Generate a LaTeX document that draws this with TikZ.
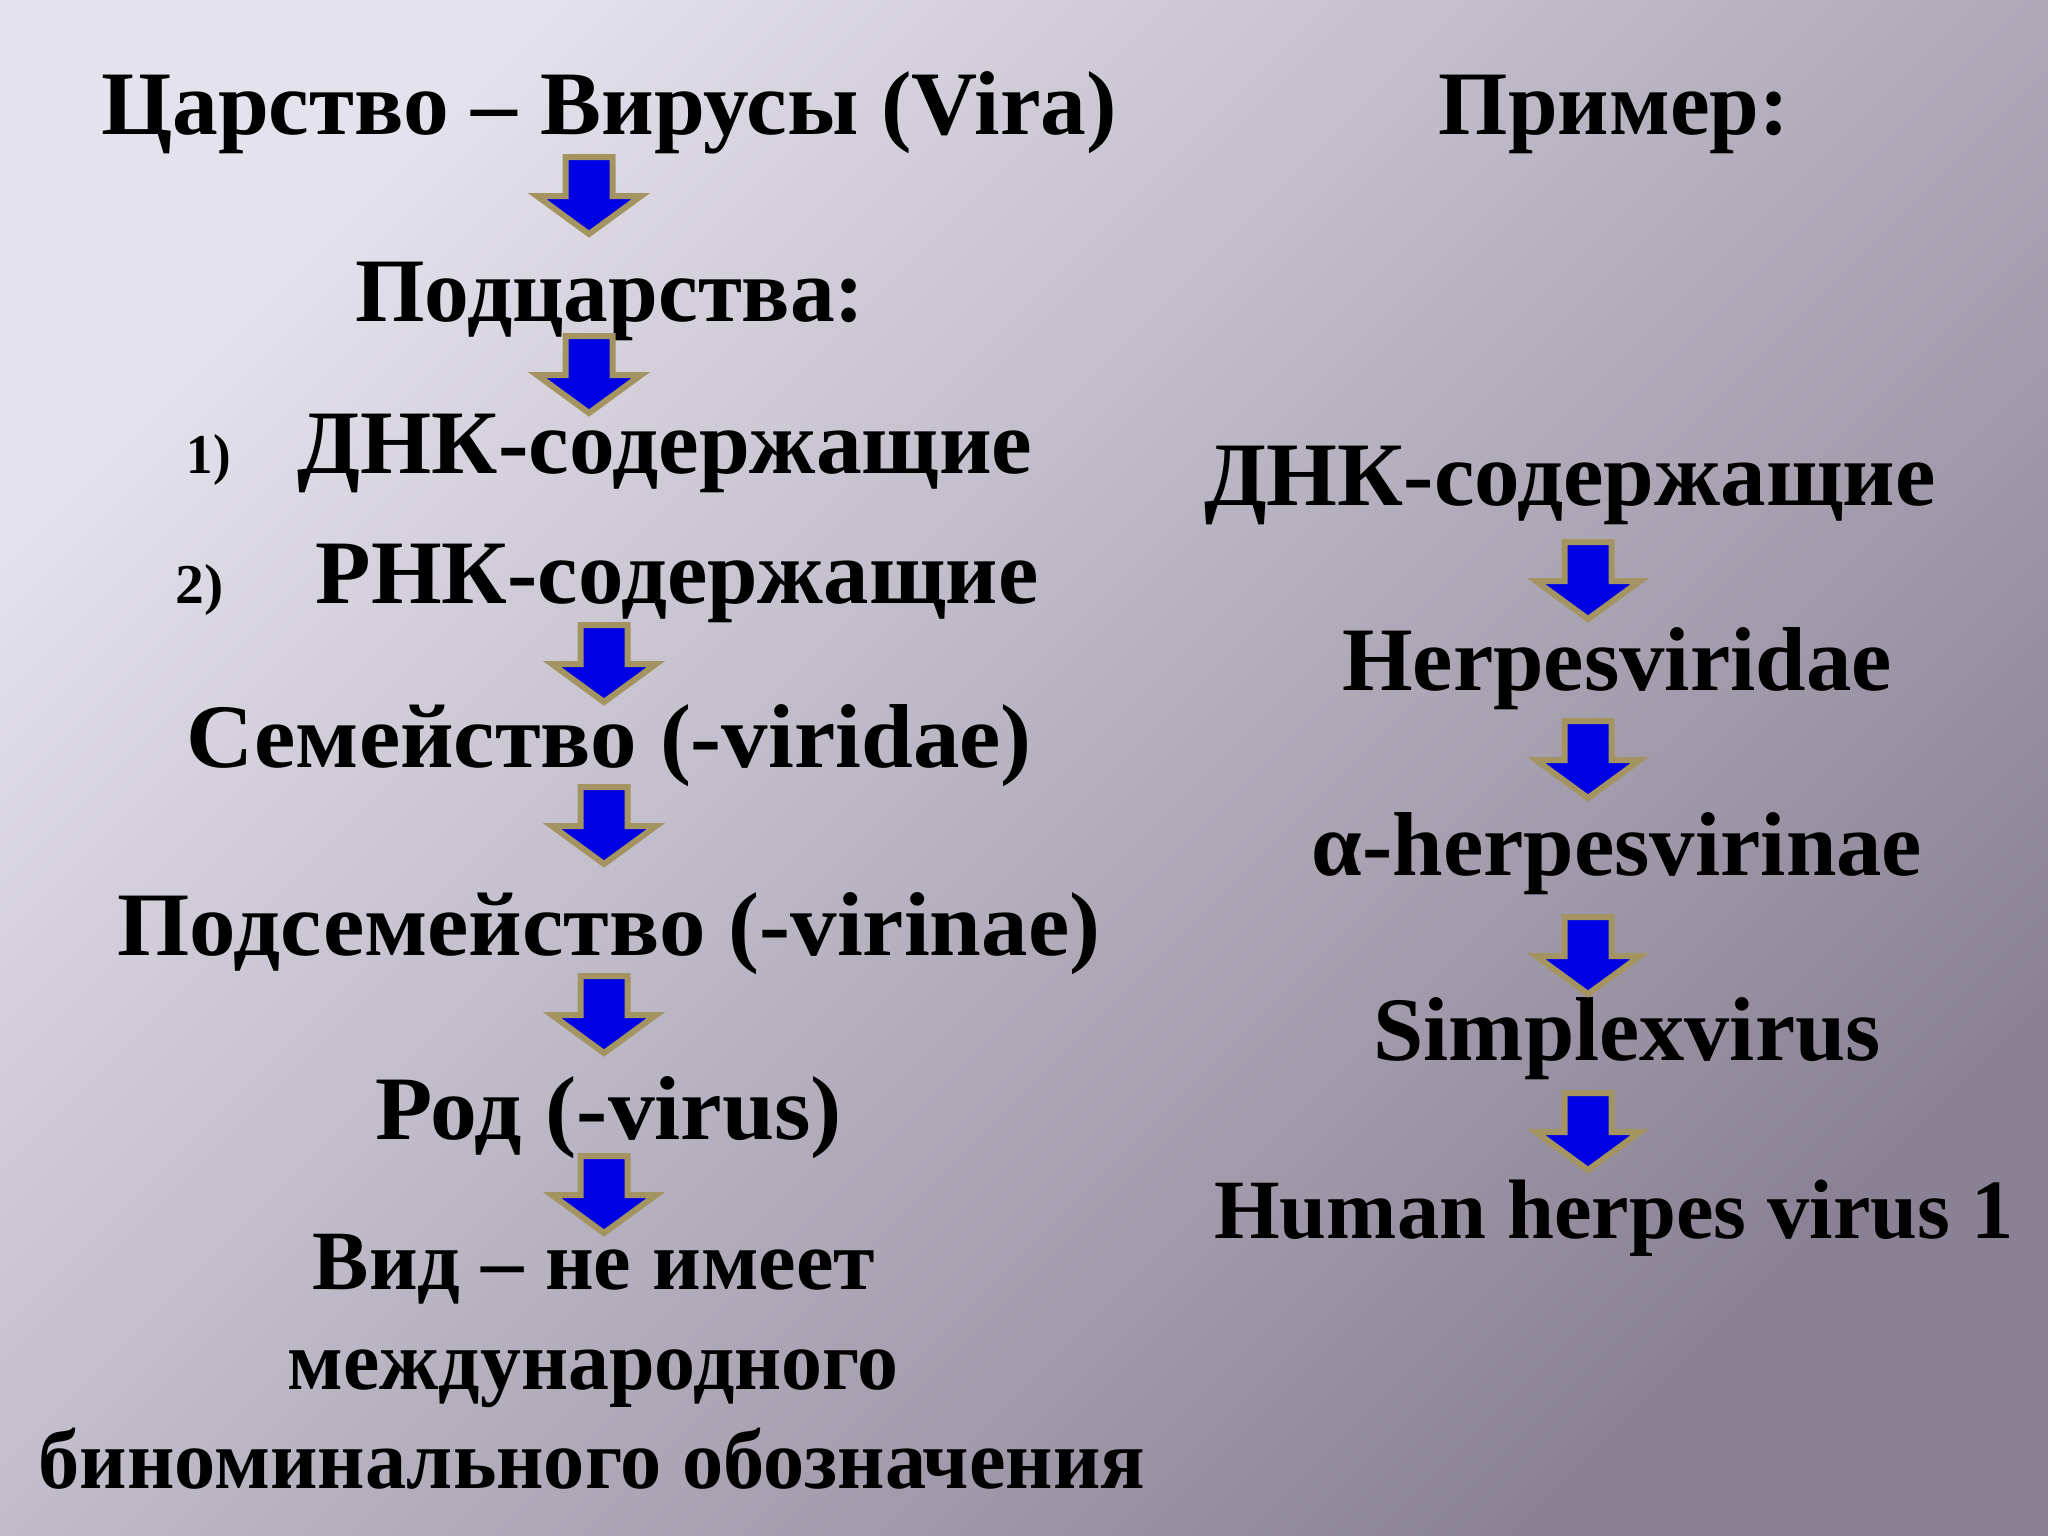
\documentclass[tikz,border=0pt]{standalone}
\usepackage{fontspec}
\setmainfont{Liberation Serif}
\usepackage{graphicx}
\definecolor{bgA}{RGB}{228,226,236}
\definecolor{bgB}{RGB}{190,185,198}
\definecolor{bgC}{RGB}{138,130,148}
\definecolor{arrblue}{RGB}{0,0,228}
\definecolor{arrgold}{RGB}{164,148,98}
\newcommand{\fitw}[2]{\resizebox{#1cm}{\height}{#2}}
\tikzset{
  lbl/.style={anchor=base, inner sep=0pt, text=black, font=\bfseries\fontsize{25.8pt}{30pt}\selectfont},
  lblsm/.style={lbl, font=\bfseries\fontsize{24pt}{28pt}\selectfont},
  numlbl/.style={lbl, font=\bfseries\fontsize{16pt}{19pt}\selectfont},
  arrowbody/.style={fill=arrblue, draw=arrgold, line width=0.06cm, line join=miter},
  blockarrow/.pic={
    \path[arrowbody] (-23.5,3) -- (23.5,3) -- (23.5,42) -- (52,42) -- (0,80)
      -- (-52,42) -- (-23.5,42) -- cycle;
  }
}
\begin{document}
\begin{tikzpicture}[x=0.01cm, y=-0.01cm]
\shade[top color=bgA, middle color=bgB, bottom color=bgC, shading angle=45]
  (0,0) rectangle (2048,1536);
\useasboundingbox (0,0) rectangle (2048,1536);

% left column
\node[lbl] (title) at (609,134) {\fitw{10.15}{Царство – Вирусы (Vira)}};
\node[lbl] (podc) at (610,321) {\fitw{5.09}{Подцарства:}};
\node[numlbl] (n1) at (209,473) {\fitw{0.44}{1)}};
\node[lbl] (dnkL) at (665,473) {\fitw{7.34}{ДНК-содержащие}};
\node[numlbl] (n2) at (200,603) {\fitw{0.48}{2)}};
\node[lbl] (rnk) at (677,603) {\fitw{7.22}{РНК-содержащие}};
\node[lbl] (sem) at (609,767) {\fitw{8.45}{Семейство (-viridae)}};
\node[lbl] (podsem) at (609,955) {\fitw{9.82}{Подсемейство (-virinae)}};
\node[lbl] (rod) at (609,1139) {\fitw{4.66}{Род (-virus)}};
\node[lblsm] (vid1) at (594,1289) {\fitw{5.62}{Вид – не имеет}};
\node[lblsm] (vid2) at (593,1389) {\fitw{6.11}{международного}};
\node[lblsm] (vid3) at (592,1488) {\fitw{11.06}{биноминального обозначения}};

% right column
\node[lbl] (primer) at (1614,134) {\fitw{3.50}{Пример:}};
\node[lbl] (dnkR) at (1570,505) {\fitw{7.31}{ДНК-содержащие}};
\node[lbl] (herpes) at (1617,690) {\fitw{5.49}{Herpesviridae}};
\node[lbl] (alpha) at (1617,875) {\fitw{6.10}{α-herpesvirinae}};
\node[lbl] (simplex) at (1627,1060) {\fitw{5.07}{Simplexvirus}};
\node[lblsm] (human) at (1614,1238) {\fitw{7.99}{Human herpes virus 1}};

% block arrows (left)
\pic at (589,154) {blockarrow};
\pic at (589,333) {blockarrow};
\pic at (604,622) {blockarrow};
\pic at (604,784) {blockarrow};
\pic at (604,973) {blockarrow};
\pic at (604,1153) {blockarrow};
% block arrows (right)
\pic at (1588,539) {blockarrow};
\pic at (1588,718) {blockarrow};
\pic at (1588,914) {blockarrow};
\pic at (1588,1090) {blockarrow};
\end{tikzpicture}
\end{document}
